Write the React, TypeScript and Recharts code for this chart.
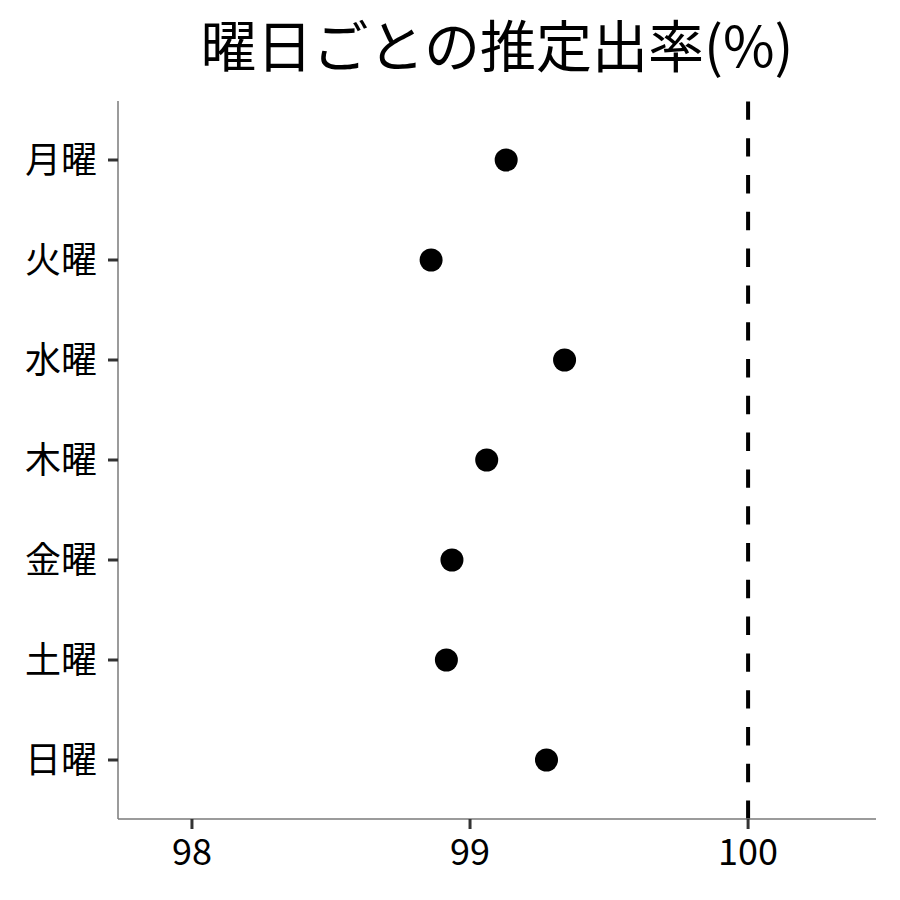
import React from 'react';
import {
  ScatterChart,
  Scatter,
  XAxis,
  YAxis,
  ReferenceLine,
} from 'recharts';

// 曜日ラベル（上から順）
const DAYS = ['月曜', '火曜', '水曜', '木曜', '金曜', '土曜', '日曜'];
// 推定出率(%)
const RATES = [99.13, 98.86, 99.34, 99.06, 98.935, 98.915, 99.275];
const X_TICKS = [98, 99, 100];
const Y_TICKS = [1, 2, 3, 4, 5, 6, 7];
const REF_X = 100;

const FONT = '"Noto Sans CJK JP", "Noto Sans", sans-serif';

const data = DAYS.map((day, i) => ({ day, pos: i + 1, rate: RATES[i] }));

function Dot(props: { cx?: number; cy?: number }) {
  if (props.cx === undefined || props.cy === undefined) return null;
  return <circle cx={props.cx} cy={props.cy} r={11.5} fill="#000" />;
}

export default function App() {
  return (
    <div
      style={{
        position: 'absolute',
        left: 0,
        top: 0,
        width: 900,
        height: 900,
        background: '#fff',
        fontFamily: FONT,
      }}
    >
      <div
        style={{
          position: 'absolute',
          left: 118,
          width: 758,
          top: 6,
          textAlign: 'center',
          fontSize: 56,
          lineHeight: '74px',
          color: '#000',
        }}
      >
        曜日ごとの推定出率(%)
      </div>
      <ScatterChart
        width={900}
        height={900}
        margin={{ top: 101, right: 24, bottom: 0, left: 0 }}
      >
        <XAxis
          type="number"
          dataKey="rate"
          domain={[97.734, 100.46]}
          ticks={X_TICKS}
          allowDataOverflow
          axisLine={{ stroke: '#7a7a7a', strokeWidth: 1.5 }}
          tickLine={{ stroke: '#333', strokeWidth: 3 }}
          tickSize={10}
          tickMargin={10}
          tick={{ fill: '#000', fontSize: 36, fontFamily: FONT }}
          height={81}
        />
        <YAxis
          type="number"
          dataKey="pos"
          domain={[0.41, 7.59]}
          reversed
          ticks={Y_TICKS}
          allowDataOverflow
          tickFormatter={(v: number) => DAYS[v - 1] ?? ''}
          axisLine={{ stroke: '#7a7a7a', strokeWidth: 1.5 }}
          tickLine={{ stroke: '#333', strokeWidth: 3 }}
          tickSize={10}
          tickMargin={11}
          tick={{ fill: '#000', fontSize: 36, fontFamily: FONT }}
          width={118}
        />
        <ReferenceLine
          x={REF_X}
          stroke="#000"
          strokeWidth={4}
          strokeDasharray="18.4 18.4"
        />
        <Scatter data={data} shape={<Dot />} isAnimationActive={false} />
      </ScatterChart>
    </div>
  );
}
